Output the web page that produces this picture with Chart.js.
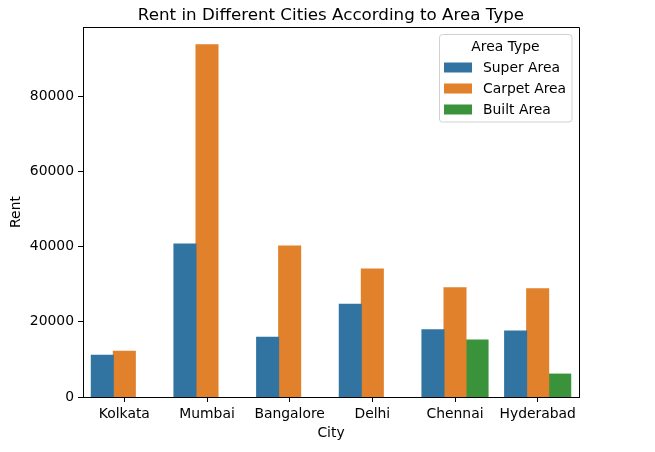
<!DOCTYPE html>
<html>
<head>
<meta charset="utf-8">
<script src="https://cdn.jsdelivr.net/npm/chart.js@4"></script>
<style>
  html, body { margin: 0; padding: 0; background: #fff; }
  #wrap { width: 655px; height: 452px; }
</style>
</head>
<body>
<div id="wrap"><canvas id="rentChart" width="655" height="452"></canvas></div>
<script>
// ── Data ──────────────────────────────────────────
const cities = ['Kolkata', 'Mumbai', 'Bangalore', 'Delhi', 'Chennai', 'Hyderabad'];
const superArea  = [11100, 40700, 15900, 24700, 17900, 17600];
const carpetArea = [12200, 93800, 40200, 34100, 29100, 28800];
const builtArea  = [null, null, null, null, 15200, 6100];
const yTicks = [0, 20000, 40000, 60000, 80000];
const yMax = 98500;

const FONT = "'DejaVu Sans', sans-serif";
const FS = 13.9;

// ── Plot frame (top/right spines) + title + legend ─
const decor = {
  id: 'decor',
  afterDraw(chart) {
    const { ctx, chartArea: a } = chart;
    ctx.save();
    ctx.strokeStyle = '#000';
    ctx.lineWidth = 1;
    ctx.beginPath();
    ctx.moveTo(a.left, a.top + 0.5);
    ctx.lineTo(a.right + 0.5, a.top + 0.5);
    ctx.lineTo(a.right + 0.5, a.bottom);
    ctx.stroke();

    // title
    ctx.fillStyle = '#000';
    ctx.font = '16.7px ' + FONT;
    ctx.textAlign = 'center';
    ctx.textBaseline = 'alphabetic';
    ctx.fillText('Rent in Different Cities According to Area Type', (a.left + a.right) / 2, 20);

    // legend
    const bx = 439.5, by = 34.5, bw = 132.5, bh = 87.5, r = 3;
    ctx.beginPath();
    ctx.moveTo(bx + r, by);
    ctx.arcTo(bx + bw, by, bx + bw, by + bh, r);
    ctx.arcTo(bx + bw, by + bh, bx, by + bh, r);
    ctx.arcTo(bx, by + bh, bx, by, r);
    ctx.arcTo(bx, by, bx + bw, by, r);
    ctx.closePath();
    ctx.fillStyle = 'rgba(255,255,255,0.8)';
    ctx.fill();
    ctx.strokeStyle = 'rgba(204,204,204,0.9)';
    ctx.stroke();

    ctx.font = FS + 'px ' + FONT;
    ctx.fillStyle = '#000';
    ctx.textBaseline = 'middle';
    ctx.textAlign = 'center';
    ctx.fillText('Area Type', 505.5, 47);
    ctx.textAlign = 'left';
    chart.data.datasets.forEach((ds, i) => {
      const cy = 67.5 + i * 21;
      ctx.fillStyle = ds.backgroundColor;
      ctx.fillRect(444, cy - 5, 28, 10);
      ctx.fillStyle = '#000';
      ctx.fillText(ds.label, 483, cy + 1);
    });
    ctx.restore();
  }
};

new Chart(document.getElementById('rentChart'), {
  type: 'bar',
  data: {
    labels: cities,
    datasets: [
      { label: 'Super Area',  data: superArea,  backgroundColor: '#3274a1' },
      { label: 'Carpet Area', data: carpetArea, backgroundColor: '#e1812c' },
      { label: 'Built Area',  data: builtArea,  backgroundColor: '#3a923a' }
    ]
  },
  options: {
    responsive: false,
    animation: false,
    devicePixelRatio: 1,
    layout: { padding: { top: 27, right: 76, bottom: 0, left: 0 } },
    datasets: { bar: { barPercentage: 1, categoryPercentage: 0.8, borderWidth: 0, inflateAmount: 0.5 } },
    plugins: { legend: { display: false }, tooltip: { enabled: false } },
    scales: {
      x: {
        offset: true,
        grid: { offset: false, drawOnChartArea: false, drawTicks: true, tickLength: 5, color: '#000' },
        border: { display: true, color: '#000', width: 1 },
        ticks: { color: '#000', padding: 4, font: { family: FONT, size: FS }, maxRotation: 0 },
        title: { display: true, text: 'City', color: '#000', font: { family: FONT, size: FS }, padding: { top: 0, bottom: 10 } },
        afterFit: s => { s.height = 55; }
      },
      y: {
        min: 0,
        max: yMax,
        grid: { drawOnChartArea: false, drawTicks: true, tickLength: 5, color: '#000' },
        border: { display: true, color: '#000', width: 1 },
        ticks: { color: '#000', padding: 4, font: { family: FONT, size: FS }, callback: v => String(v) },
        afterBuildTicks: s => { s.ticks = yTicks.map(v => ({ value: v })); },
        title: { display: true, text: 'Rent', color: '#000', font: { family: FONT, size: FS }, padding: { top: 8, bottom: 0 } },
        afterFit: s => { s.width = 83; }
      }
    }
  },
  plugins: [decor]
});
</script>
</body>
</html>
